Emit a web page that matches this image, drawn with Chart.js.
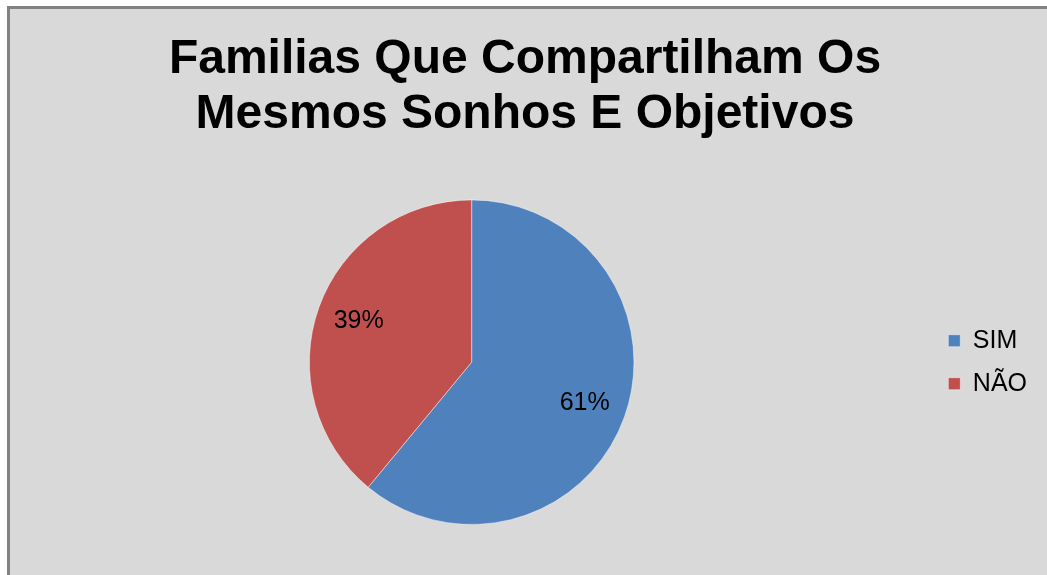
<!DOCTYPE html>
<html>
<head>
<meta charset="utf-8">
<script src="https://cdn.jsdelivr.net/npm/chart.js@4/dist/chart.umd.min.js"></script>
<style>
  html, body { margin: 0; padding: 0; background: #ffffff; overflow: hidden; }
  #frame { position: absolute; left: 7px; top: 6px; width: 1100px; height: 600px;
           background: #d9d9d9; border-left: 3px solid #828282; border-top: 3px solid #828282; }
  #wrap { position: absolute; left: 0; top: 0; width: 1047px; height: 575px; }
</style>
</head>
<body>
<div id="frame"></div>
<div id="wrap"><canvas id="c"></canvas></div>
<script>
const titleLines = ["Familias Que Compartilham Os", "Mesmos Sonhos E Objetivos"];
const categories = ["SIM", "NÃO"];
const values = [61, 39];
const colors = ["#4f81bd", "#c0504d"];

const FONT = "'Liberation Sans', Arial, sans-serif";

const pctLabels = {
  id: 'pctLabels',
  afterDatasetsDraw(chart) {
    const ctx = chart.ctx;
    const meta = chart.getDatasetMeta(0);
    ctx.save();
    ctx.font = "25px " + FONT;
    ctx.fillStyle = "#000";
    ctx.textAlign = "center";
    ctx.textBaseline = "middle";
    meta.data.forEach((arc, i) => {
      const p = arc.getProps(['x', 'y', 'startAngle', 'endAngle', 'outerRadius'], true);
      const mid = (p.startAngle + p.endAngle) / 2;
      const r = p.outerRadius * 0.74;
      ctx.fillText(values[i] + "%", p.x + Math.cos(mid) * r, p.y + Math.sin(mid) * r);
    });
    ctx.restore();
  }
};

new Chart(document.getElementById('c'), {
  type: 'pie',
  data: {
    labels: categories,
    datasets: [{
      data: values,
      backgroundColor: colors,
      borderColor: 'rgba(255,255,255,0.45)',
      borderWidth: 1
    }]
  },
  options: {
    responsive: true,
    maintainAspectRatio: false,
    animation: false,
    layout: { padding: { left: 13, right: 10, top: 0, bottom: 50 } },
    plugins: {
      title: {
        display: true,
        text: titleLines,
        color: '#000',
        font: { family: FONT, size: 48, weight: 'bold', lineHeight: 1.15 },
        padding: { top: 32, bottom: 57 }
      },
      legend: {
        display: true,
        position: 'right',
        fullSize: false,
        labels: {
          color: '#000',
          font: { family: FONT, size: 25 },
          boxWidth: 12,
          boxHeight: 12,
          padding: 18
        }
      },
      tooltip: { enabled: false }
    }
  },
  plugins: [pctLabels]
});
</script>
</body>
</html>
